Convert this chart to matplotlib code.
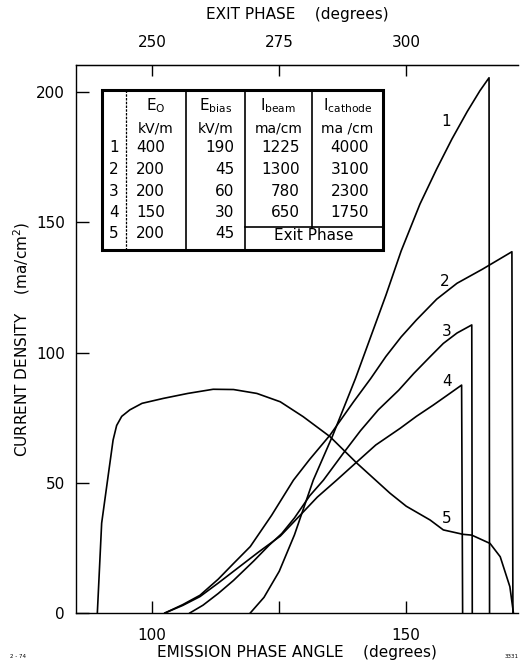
import numpy as np
import matplotlib
matplotlib.use("Agg")
import matplotlib.pyplot as plt
from matplotlib.lines import Line2D

plt.rcParams['font.family'] = ['DejaVu Sans']

# curves: emission phase (deg), current density (ma/cm^2)
c1_x = [119.3, 122, 125, 128, 131.7, 135.5, 140, 143, 146, 149, 152.7, 156, 159, 162, 164.5, 166.3, 166.4]
c1_y = [0, 6, 16, 30, 51, 68, 90, 106, 122, 139, 157, 170.5, 182, 192.5, 200.5, 205.5, 0]

c2_x = [102.5, 106, 109.4, 113, 116, 119.3, 123.5, 127.8, 131, 135, 139.6, 143, 146, 149, 152, 156, 160, 165, 170.8, 171.0]
c2_y = [0, 3.2, 6.8, 13, 19, 25.5, 37.5, 51, 59, 68.3, 81, 90, 98.5, 106, 112.5, 120.5, 126.6, 132, 138.7, 0]

c3_x = [107.4, 110, 113, 116, 120, 123, 125.5, 128, 131, 133.7, 137.6, 141, 144.5, 148.5, 151.5, 154.7, 157.3, 160, 162.9, 163.0]
c3_y = [0, 3, 7.5, 12.5, 20, 26, 30.5, 36.5, 45, 51, 61.3, 70, 78, 85.5, 92, 98.4, 103.5, 107.5, 110.6, 0]

c4_x = [102.5, 106, 109.4, 113, 117, 121, 125.2, 129.1, 132.5, 136.3, 139.6, 144, 148.8, 152, 155.3, 158, 160.9, 161.1]
c4_y = [0, 2.9, 6.3, 11.5, 17.5, 23.5, 29.5, 37.5, 44.5, 51, 56.8, 64.5, 70.9, 75.5, 79.8, 83.5, 87.5, 0]

c5_x = [89.2, 90.05, 91.4, 92.3, 93.0, 94.0, 95.6, 98, 102.2, 107, 112, 116, 120.6, 125.2, 129.7, 135, 140.3,
        146.8, 150, 154.7, 157.3, 161.2, 162.9, 166.5, 168.5, 170.4, 171.1]
c5_y = [0, 34.5, 53.7, 66.4, 72, 75.5, 78, 80.5, 82.4, 84.3, 85.9, 85.8, 84.3, 81.1, 75.4, 67.7, 57.5,
        46, 41, 35.7, 31.9, 30.2, 29.9, 26.7, 21.6, 10.1, 0]

curves_x = [c1_x, c2_x, c3_x, c4_x, c5_x]
curves_y = [c1_y, c2_y, c3_y, c4_y, c5_y]
curve_names = ['1', '2', '3', '4', '5']
label_x = [157.8, 157.6, 158.0, 158.0, 158.0]
label_y = [188.6, 127.2, 108.0, 88.8, 36.4]

# table contents
tbl_header1 = ['', 'E$_{\\rm O}$', 'E$_{\\rm bias}$', 'I$_{\\rm beam}$', 'I$_{\\rm cathode}$']
tbl_header2 = ['', 'kV/m', 'kV/m', 'ma/cm', 'ma /cm']
tbl_rows = [
    ['1', '400', '190', '1225', '4000'],
    ['2', '200', '45', '1300', '3100'],
    ['3', '200', '60', '780', '2300'],
    ['4', '150', '30', '650', '1750'],
    ['5', '200', '45', '', ''],
]

W, H = 524, 664
fig = plt.figure(figsize=(W / 100, H / 100), dpi=100)
ax = fig.add_axes([76 / W, 1 - 613 / H, (518 - 76) / W, (613 - 65) / H])

for xs, ys in zip(curves_x, curves_y):
    ax.plot(xs, ys, color='black', lw=1.2)
for n, lx, ly in zip(curve_names, label_x, label_y):
    ax.text(lx, ly, n, fontsize=11, ha='center', va='center')

ax.set_xlim(85, 172)
ax.set_ylim(0, 210.4)
ax.spines['right'].set_visible(False)
for s in ['left', 'bottom', 'top']:
    ax.spines[s].set_linewidth(1.0)

ax.set_xticks([100, 125, 150])
ax.set_xticklabels(['100', '', '150'])
ax.set_yticks([0, 50, 100, 150, 200])
ax.tick_params(direction='in', length=9, width=1.0, labelsize=11)
ax.tick_params(axis='x', pad=11)
ax.tick_params(axis='y', pad=8)

top = ax.secondary_xaxis('top', functions=(lambda x: x + 150, lambda x: x - 150))
top.set_xticks([250, 275, 300])
top.tick_params(direction='in', length=8, width=1.0, labelsize=11, pad=11)
top.set_xlabel('EXIT PHASE    (degrees)', fontsize=11, labelpad=11)

ax.set_xlabel('EMISSION PHASE ANGLE    (degrees)', fontsize=11, labelpad=1)
ax.set_ylabel('CURRENT DENSITY    (ma/cm$^2$)', fontsize=11, labelpad=3)

# table drawn in pixel positions of the figure
def fx(x):
    return x / W

def fy(y):
    return 1 - y / H

left, right, ttop, bot = 102, 383, 90, 250
cols = [126, 186, 245, 312]
fig.add_artist(plt.Rectangle((fx(left), fy(bot)), fx(right) - fx(left), fy(ttop) - fy(bot),
                             fill=False, lw=2.2, ec='black'))
fig.add_artist(Line2D([fx(cols[0])] * 2, [fy(ttop), fy(bot)], color='black', lw=0.9, ls=(0, (2, 1))))
for cx in cols[1:3]:
    fig.add_artist(Line2D([fx(cx)] * 2, [fy(ttop), fy(bot)], color='black', lw=1.2))
fig.add_artist(Line2D([fx(cols[3])] * 2, [fy(ttop), fy(227)], color='black', lw=1.2))
fig.add_artist(Line2D([fx(cols[2]), fx(right)], [fy(227)] * 2, color='black', lw=1.2))

centers = [114, 156, 215.5, 278.5, 347.5]
for cx, h1, h2 in zip(centers, tbl_header1, tbl_header2):
    fig.text(fx(cx), fy(106), h1, fontsize=11, ha='center', va='center')
    fig.text(fx(cx), fy(128), h2, fontsize=10, ha='center', va='center')

row_y = [148, 169.5, 191, 212.5, 234]
for ry, row in zip(row_y, tbl_rows):
    fig.text(fx(114), fy(ry), row[0], fontsize=11, ha='center', va='center')
    fig.text(fx(136), fy(ry), row[1], fontsize=11, ha='left', va='center')
    fig.text(fx(234), fy(ry), row[2], fontsize=11, ha='right', va='center')
    fig.text(fx(300), fy(ry), row[3], fontsize=11, ha='right', va='center')
    fig.text(fx(369), fy(ry), row[4], fontsize=11, ha='right', va='center')
fig.text(fx(314), fy(236), 'Exit Phase', fontsize=11, ha='center', va='center')

# tiny corner marks from the scan
fig.text(fx(10), fy(656), '2 - 74', fontsize=4, ha='left', va='center')
fig.text(fx(505), fy(656), '3331', fontsize=4, ha='left', va='center')

fig.savefig('out.png', dpi=100)
